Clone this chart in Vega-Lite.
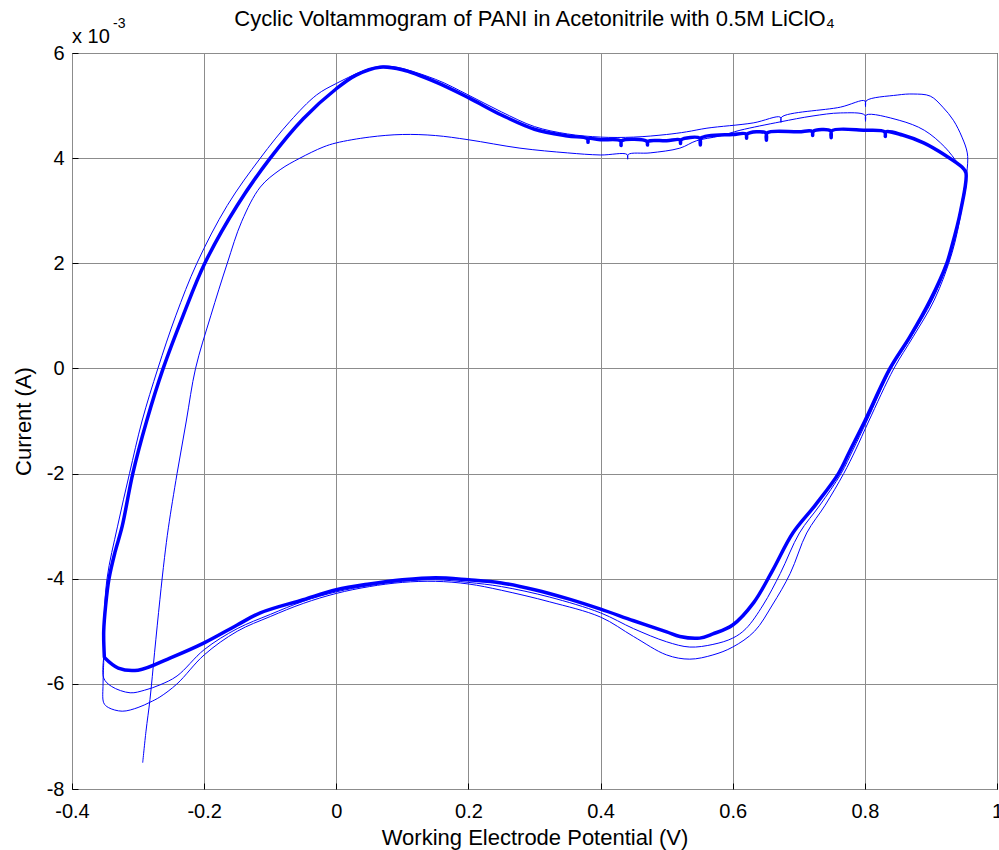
{
"$schema": "https://vega.github.io/schema/vega-lite/v6.json",
"width": 925, "height": 736,
"autosize": {"type": "none"},
"padding": {"left": 72, "top": 53, "right": 2, "bottom": 61},
"background": "white",
"title": {"text": "Cyclic Voltammogram of PANI in Acetonitrile with 0.5M LiClO₄", "font": "Liberation Sans", "fontSize": 22, "fontWeight": "normal", "color": "black", "frame": "group", "anchor": "middle", "baseline": "alphabetic", "offset": -31},
"config": {
 "view": {"stroke": "black", "strokeWidth": 1},
 "axis": {"domain": false, "grid": true, "gridColor": "#8c8c8c", "gridWidth": 1, "ticks": true, "tickSize": -6, "tickColor": "black", "tickWidth": 1, "labelFont": "Liberation Sans", "labelFontSize": 20, "labelColor": "black", "titleFont": "Liberation Sans", "titleFontSize": 22, "titleFontWeight": "normal", "titleColor": "black", "labelFlush": false, "labelOverlap": false, "labelBound": false}
},
"data": {"values": [
{"cycle":"3","i":0,"v":-0.351,"c":-5.5},{"cycle":"3","i":1,"v":-0.352,"c":-5.0},{"cycle":"3","i":2,"v":-0.349,"c":-4.5},{"cycle":"3","i":3,"v":-0.344,"c":-4.0},{"cycle":"3","i":4,"v":-0.335,"c":-3.5},{"cycle":"3","i":5,"v":-0.324,"c":-3.0},{"cycle":"3","i":6,"v":-0.308,"c":-2.0},{"cycle":"3","i":7,"v":-0.287,"c":-1.0},{"cycle":"3","i":8,"v":-0.262,"c":0.0},{"cycle":"3","i":9,"v":-0.232,"c":1.0},{"cycle":"3","i":10,"v":-0.199,"c":2.0},{"cycle":"3","i":11,"v":-0.15,"c":3.1},{"cycle":"3","i":12,"v":-0.1,"c":4.0},{"cycle":"3","i":13,"v":-0.05,"c":4.75},{"cycle":"3","i":14,"v":0.0,"c":5.32},{"cycle":"3","i":15,"v":0.03,"c":5.58},{"cycle":"3","i":16,"v":0.066,"c":5.73},{"cycle":"3","i":17,"v":0.1,"c":5.68},{"cycle":"3","i":18,"v":0.15,"c":5.45},{"cycle":"3","i":19,"v":0.2,"c":5.15},{"cycle":"3","i":20,"v":0.25,"c":4.82},{"cycle":"3","i":21,"v":0.3,"c":4.55},{"cycle":"3","i":22,"v":0.35,"c":4.42},{"cycle":"3","i":23,"v":0.38,"c":4.37},{"cycle":"3","i":24,"v":0.381,"c":4.3},{"cycle":"3","i":25,"v":0.382,"c":4.37},{"cycle":"3","i":26,"v":0.4,"c":4.35},{"cycle":"3","i":27,"v":0.43,"c":4.33},{"cycle":"3","i":28,"v":0.431,"c":4.24},{"cycle":"3","i":29,"v":0.432,"c":4.33},{"cycle":"3","i":30,"v":0.47,"c":4.32},{"cycle":"3","i":31,"v":0.471,"c":4.25},{"cycle":"3","i":32,"v":0.472,"c":4.32},{"cycle":"3","i":33,"v":0.5,"c":4.33},{"cycle":"3","i":34,"v":0.52,"c":4.35},{"cycle":"3","i":35,"v":0.521,"c":4.28},{"cycle":"3","i":36,"v":0.522,"c":4.35},{"cycle":"3","i":37,"v":0.55,"c":4.38},{"cycle":"3","i":38,"v":0.551,"c":4.25},{"cycle":"3","i":39,"v":0.552,"c":4.38},{"cycle":"3","i":40,"v":0.6,"c":4.45},{"cycle":"3","i":41,"v":0.62,"c":4.46},{"cycle":"3","i":42,"v":0.621,"c":4.38},{"cycle":"3","i":43,"v":0.622,"c":4.46},{"cycle":"3","i":44,"v":0.65,"c":4.48},{"cycle":"3","i":45,"v":0.651,"c":4.34},{"cycle":"3","i":46,"v":0.652,"c":4.48},{"cycle":"3","i":47,"v":0.7,"c":4.5},{"cycle":"3","i":48,"v":0.72,"c":4.51},{"cycle":"3","i":49,"v":0.721,"c":4.43},{"cycle":"3","i":50,"v":0.722,"c":4.51},{"cycle":"3","i":51,"v":0.748,"c":4.52},{"cycle":"3","i":52,"v":0.749,"c":4.39},{"cycle":"3","i":53,"v":0.75,"c":4.52},{"cycle":"3","i":54,"v":0.8,"c":4.53},{"cycle":"3","i":55,"v":0.83,"c":4.5},{"cycle":"3","i":56,"v":0.831,"c":4.41},{"cycle":"3","i":57,"v":0.832,"c":4.5},{"cycle":"3","i":58,"v":0.857,"c":4.44},{"cycle":"3","i":59,"v":0.889,"c":4.29},{"cycle":"3","i":60,"v":0.921,"c":4.06},{"cycle":"3","i":61,"v":0.947,"c":3.83},{"cycle":"3","i":62,"v":0.953,"c":3.72},{"cycle":"3","i":63,"v":0.945,"c":3.0},{"cycle":"3","i":64,"v":0.93,"c":2.25},{"cycle":"3","i":65,"v":0.924,"c":2.0},{"cycle":"3","i":66,"v":0.899,"c":1.3},{"cycle":"3","i":67,"v":0.868,"c":0.6},{"cycle":"3","i":68,"v":0.838,"c":0.0},{"cycle":"3","i":69,"v":0.8,"c":-1.0},{"cycle":"3","i":70,"v":0.778,"c":-1.55},{"cycle":"3","i":71,"v":0.76,"c":-2.0},{"cycle":"3","i":72,"v":0.725,"c":-2.6},{"cycle":"3","i":73,"v":0.691,"c":-3.13},{"cycle":"3","i":74,"v":0.66,"c":-3.85},{"cycle":"3","i":75,"v":0.632,"c":-4.45},{"cycle":"3","i":76,"v":0.6,"c":-4.88},{"cycle":"3","i":77,"v":0.57,"c":-5.05},{"cycle":"3","i":78,"v":0.55,"c":-5.13},{"cycle":"3","i":79,"v":0.52,"c":-5.1},{"cycle":"3","i":80,"v":0.5,"c":-5.01},{"cycle":"3","i":81,"v":0.45,"c":-4.8},{"cycle":"3","i":82,"v":0.4,"c":-4.58},{"cycle":"3","i":83,"v":0.35,"c":-4.38},{"cycle":"3","i":84,"v":0.3,"c":-4.21},{"cycle":"3","i":85,"v":0.25,"c":-4.08},{"cycle":"3","i":86,"v":0.2,"c":-4.02},{"cycle":"3","i":87,"v":0.15,"c":-3.98},{"cycle":"3","i":88,"v":0.1,"c":-4.02},{"cycle":"3","i":89,"v":0.05,"c":-4.1},{"cycle":"3","i":90,"v":0.0,"c":-4.21},{"cycle":"3","i":91,"v":-0.05,"c":-4.4},{"cycle":"3","i":92,"v":-0.115,"c":-4.65},{"cycle":"3","i":93,"v":-0.15,"c":-4.88},{"cycle":"3","i":94,"v":-0.2,"c":-5.22},{"cycle":"3","i":95,"v":-0.25,"c":-5.5},{"cycle":"3","i":96,"v":-0.3,"c":-5.74},{"cycle":"3","i":97,"v":-0.33,"c":-5.7},{"cycle":"3","i":98,"v":-0.351,"c":-5.5},
{"cycle":"1","i":0,"v":-0.293,"c":-7.5},{"cycle":"1","i":1,"v":-0.288,"c":-6.9},{"cycle":"1","i":2,"v":-0.282,"c":-6.3},{"cycle":"1","i":3,"v":-0.275,"c":-5.4},{"cycle":"1","i":4,"v":-0.267,"c":-4.4},{"cycle":"1","i":5,"v":-0.26,"c":-3.6},{"cycle":"1","i":6,"v":-0.254,"c":-3.02},{"cycle":"1","i":7,"v":-0.241,"c":-2.0},{"cycle":"1","i":8,"v":-0.227,"c":-1.0},{"cycle":"1","i":9,"v":-0.213,"c":0.0},{"cycle":"1","i":10,"v":-0.19,"c":1.0},{"cycle":"1","i":11,"v":-0.165,"c":2.0},{"cycle":"1","i":12,"v":-0.143,"c":2.8},{"cycle":"1","i":13,"v":-0.115,"c":3.45},{"cycle":"1","i":14,"v":-0.085,"c":3.78},{"cycle":"1","i":15,"v":-0.055,"c":4.0},{"cycle":"1","i":16,"v":-0.02,"c":4.21},{"cycle":"1","i":17,"v":0.0,"c":4.29},{"cycle":"1","i":18,"v":0.05,"c":4.4},{"cycle":"1","i":19,"v":0.1,"c":4.45},{"cycle":"1","i":20,"v":0.15,"c":4.43},{"cycle":"1","i":21,"v":0.2,"c":4.35},{"cycle":"1","i":22,"v":0.278,"c":4.19},{"cycle":"1","i":23,"v":0.35,"c":4.1},{"cycle":"1","i":24,"v":0.4,"c":4.06},{"cycle":"1","i":25,"v":0.44,"c":4.07},{"cycle":"1","i":26,"v":0.441,"c":3.98},{"cycle":"1","i":27,"v":0.442,"c":4.07},{"cycle":"1","i":28,"v":0.475,"c":4.1},{"cycle":"1","i":29,"v":0.52,"c":4.19},{"cycle":"1","i":30,"v":0.545,"c":4.33},{"cycle":"1","i":31,"v":0.58,"c":4.42},{"cycle":"1","i":32,"v":0.611,"c":4.53},{"cycle":"1","i":33,"v":0.672,"c":4.69},{"cycle":"1","i":34,"v":0.72,"c":4.8},{"cycle":"1","i":35,"v":0.763,"c":4.86},{"cycle":"1","i":36,"v":0.8,"c":4.82},{"cycle":"1","i":37,"v":0.801,"c":4.7},{"cycle":"1","i":38,"v":0.802,"c":4.82},{"cycle":"1","i":39,"v":0.852,"c":4.72},{"cycle":"1","i":40,"v":0.89,"c":4.53},{"cycle":"1","i":41,"v":0.921,"c":4.21},{"cycle":"1","i":42,"v":0.941,"c":3.9},{"cycle":"1","i":43,"v":0.953,"c":3.72},{"cycle":"1","i":44,"v":0.946,"c":3.0},{"cycle":"1","i":45,"v":0.932,"c":2.2},{"cycle":"1","i":46,"v":0.905,"c":1.3},{"cycle":"1","i":47,"v":0.873,"c":0.6},{"cycle":"1","i":48,"v":0.844,"c":0.0},{"cycle":"1","i":49,"v":0.806,"c":-1.0},{"cycle":"1","i":50,"v":0.786,"c":-1.55},{"cycle":"1","i":51,"v":0.768,"c":-2.0},{"cycle":"1","i":52,"v":0.74,"c":-2.6},{"cycle":"1","i":53,"v":0.712,"c":-3.13},{"cycle":"1","i":54,"v":0.687,"c":-3.9},{"cycle":"1","i":55,"v":0.66,"c":-4.5},{"cycle":"1","i":56,"v":0.633,"c":-5.0},{"cycle":"1","i":57,"v":0.6,"c":-5.3},{"cycle":"1","i":58,"v":0.57,"c":-5.45},{"cycle":"1","i":59,"v":0.535,"c":-5.53},{"cycle":"1","i":60,"v":0.5,"c":-5.45},{"cycle":"1","i":61,"v":0.45,"c":-5.1},{"cycle":"1","i":62,"v":0.4,"c":-4.73},{"cycle":"1","i":63,"v":0.323,"c":-4.44},{"cycle":"1","i":64,"v":0.25,"c":-4.22},{"cycle":"1","i":65,"v":0.2,"c":-4.1},{"cycle":"1","i":66,"v":0.15,"c":-4.05},{"cycle":"1","i":67,"v":0.1,"c":-4.07},{"cycle":"1","i":68,"v":0.05,"c":-4.15},{"cycle":"1","i":69,"v":0.0,"c":-4.28},{"cycle":"1","i":70,"v":-0.05,"c":-4.47},{"cycle":"1","i":71,"v":-0.1,"c":-4.72},{"cycle":"1","i":72,"v":-0.15,"c":-5.0},{"cycle":"1","i":73,"v":-0.2,"c":-5.45},{"cycle":"1","i":74,"v":-0.241,"c":-6.0},{"cycle":"1","i":75,"v":-0.267,"c":-6.25},{"cycle":"1","i":76,"v":-0.282,"c":-6.35},{"cycle":"1","i":77,"v":-0.3,"c":-6.45},{"cycle":"1","i":78,"v":-0.324,"c":-6.52},{"cycle":"1","i":79,"v":-0.345,"c":-6.45},{"cycle":"1","i":80,"v":-0.352,"c":-6.36},{"cycle":"1","i":81,"v":-0.353,"c":-6.0},{"cycle":"1","i":82,"v":-0.352,"c":-5.6},
{"cycle":"2","i":0,"v":-0.352,"c":-5.6},{"cycle":"2","i":1,"v":-0.352,"c":-5.0},{"cycle":"2","i":2,"v":-0.347,"c":-4.0},{"cycle":"2","i":3,"v":-0.331,"c":-3.0},{"cycle":"2","i":4,"v":-0.313,"c":-2.0},{"cycle":"2","i":5,"v":-0.294,"c":-1.0},{"cycle":"2","i":6,"v":-0.27,"c":0.0},{"cycle":"2","i":7,"v":-0.243,"c":1.0},{"cycle":"2","i":8,"v":-0.211,"c":2.0},{"cycle":"2","i":9,"v":-0.165,"c":3.1},{"cycle":"2","i":10,"v":-0.115,"c":4.0},{"cycle":"2","i":11,"v":-0.07,"c":4.7},{"cycle":"2","i":12,"v":-0.03,"c":5.2},{"cycle":"2","i":13,"v":0.0,"c":5.42},{"cycle":"2","i":14,"v":0.05,"c":5.7},{"cycle":"2","i":15,"v":0.08,"c":5.75},{"cycle":"2","i":16,"v":0.15,"c":5.5},{"cycle":"2","i":17,"v":0.2,"c":5.2},{"cycle":"2","i":18,"v":0.25,"c":4.88},{"cycle":"2","i":19,"v":0.3,"c":4.6},{"cycle":"2","i":20,"v":0.35,"c":4.46},{"cycle":"2","i":21,"v":0.4,"c":4.4},{"cycle":"2","i":22,"v":0.45,"c":4.4},{"cycle":"2","i":23,"v":0.5,"c":4.45},{"cycle":"2","i":24,"v":0.53,"c":4.5},{"cycle":"2","i":25,"v":0.561,"c":4.57},{"cycle":"2","i":26,"v":0.631,"c":4.67},{"cycle":"2","i":27,"v":0.672,"c":4.78},{"cycle":"2","i":28,"v":0.673,"c":4.68},{"cycle":"2","i":29,"v":0.674,"c":4.78},{"cycle":"2","i":30,"v":0.763,"c":4.97},{"cycle":"2","i":31,"v":0.8,"c":5.09},{"cycle":"2","i":32,"v":0.801,"c":4.98},{"cycle":"2","i":33,"v":0.802,"c":5.09},{"cycle":"2","i":34,"v":0.849,"c":5.2},{"cycle":"2","i":35,"v":0.873,"c":5.22},{"cycle":"2","i":36,"v":0.899,"c":5.18},{"cycle":"2","i":37,"v":0.918,"c":4.97},{"cycle":"2","i":38,"v":0.934,"c":4.72},{"cycle":"2","i":39,"v":0.947,"c":4.4},{"cycle":"2","i":40,"v":0.955,"c":4.1},{"cycle":"2","i":41,"v":0.955,"c":3.81},{"cycle":"2","i":42,"v":0.944,"c":3.0},{"cycle":"2","i":43,"v":0.928,"c":2.1},{"cycle":"2","i":44,"v":0.902,"c":1.3},{"cycle":"2","i":45,"v":0.87,"c":0.6},{"cycle":"2","i":46,"v":0.84,"c":0.0},{"cycle":"2","i":47,"v":0.803,"c":-1.0},{"cycle":"2","i":48,"v":0.782,"c":-1.55},{"cycle":"2","i":49,"v":0.764,"c":-2.0},{"cycle":"2","i":50,"v":0.732,"c":-2.6},{"cycle":"2","i":51,"v":0.701,"c":-3.13},{"cycle":"2","i":52,"v":0.672,"c":-3.9},{"cycle":"2","i":53,"v":0.646,"c":-4.5},{"cycle":"2","i":54,"v":0.62,"c":-4.95},{"cycle":"2","i":55,"v":0.6,"c":-5.13},{"cycle":"2","i":56,"v":0.57,"c":-5.25},{"cycle":"2","i":57,"v":0.535,"c":-5.3},{"cycle":"2","i":58,"v":0.5,"c":-5.2},{"cycle":"2","i":59,"v":0.45,"c":-4.95},{"cycle":"2","i":60,"v":0.4,"c":-4.65},{"cycle":"2","i":61,"v":0.323,"c":-4.35},{"cycle":"2","i":62,"v":0.25,"c":-4.15},{"cycle":"2","i":63,"v":0.2,"c":-4.07},{"cycle":"2","i":64,"v":0.15,"c":-4.02},{"cycle":"2","i":65,"v":0.1,"c":-4.05},{"cycle":"2","i":66,"v":0.05,"c":-4.13},{"cycle":"2","i":67,"v":0.0,"c":-4.25},{"cycle":"2","i":68,"v":-0.05,"c":-4.43},{"cycle":"2","i":69,"v":-0.1,"c":-4.68},{"cycle":"2","i":70,"v":-0.15,"c":-4.95},{"cycle":"2","i":71,"v":-0.2,"c":-5.35},{"cycle":"2","i":72,"v":-0.241,"c":-5.85},{"cycle":"2","i":73,"v":-0.267,"c":-6.02},{"cycle":"2","i":74,"v":-0.29,"c":-6.12},{"cycle":"2","i":75,"v":-0.312,"c":-6.17},{"cycle":"2","i":76,"v":-0.34,"c":-6.05},{"cycle":"2","i":77,"v":-0.352,"c":-5.89},{"cycle":"2","i":78,"v":-0.352,"c":-5.5}
]},
"encoding": {
 "x": {"field": "v", "type": "quantitative", "title": "Working Electrode Potential (V)", "scale": {"domain": [-0.4, 1], "nice": false, "zero": false}, "axis": {"values": [-0.4, -0.2, 0, 0.2, 0.4, 0.6, 0.8, 1], "labelExpr": "'' + datum.value", "labelPadding": 18, "titlePadding": 6}},
 "y": {"field": "c", "type": "quantitative", "title": "Current (A)", "scale": {"domain": [-8, 6], "nice": false, "zero": false}, "axis": {"values": [-8, -6, -4, -2, 0, 2, 4, 6], "labelExpr": "'' + datum.value", "labelPadding": 14, "titlePadding": 11}}
},
"layer": [
 {
  "transform": [{"filter": "datum.cycle != '3'"}],
  "mark": {"type": "line", "color": "#0000ff", "strokeWidth": 1, "interpolate": "catmull-rom", "strokeJoin": "round", "clip": true},
  "encoding": {"detail": {"field": "cycle", "type": "nominal"}, "order": {"field": "i", "type": "quantitative"}}
 },
 {
  "transform": [{"filter": "datum.cycle == '3'"}],
  "mark": {"type": "line", "color": "#0000ff", "strokeWidth": 3.5, "interpolate": "catmull-rom", "strokeJoin": "round", "clip": true},
  "encoding": {"detail": {"field": "cycle", "type": "nominal"}, "order": {"field": "i", "type": "quantitative"}}
 },
 {
  "data": {"values": [{"v": -0.4, "c": 6, "t": "x 10"}]},
  "mark": {"type": "text", "align": "left", "baseline": "alphabetic", "dy": -10, "font": "Liberation Sans", "fontSize": 20, "color": "black"},
  "encoding": {"text": {"field": "t"}}
 },
 {
  "data": {"values": [{"v": -0.4, "c": 6, "t": "-3"}]},
  "mark": {"type": "text", "align": "left", "baseline": "alphabetic", "dx": 41, "dy": -25, "font": "Liberation Sans", "fontSize": 14, "color": "black"},
  "encoding": {"text": {"field": "t"}}
 }
]
}
